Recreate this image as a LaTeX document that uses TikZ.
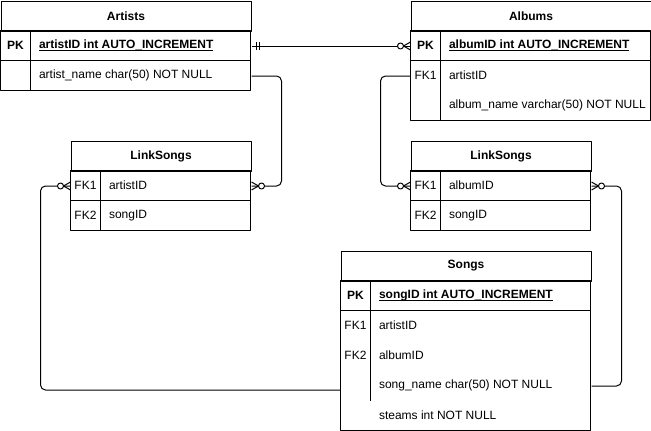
\documentclass[tikz,border=0pt]{standalone}
\usepackage{fontspec}
\setmainfont{Liberation Sans}
\newcommand{\erfont}{\fontsize{12}{14}\selectfont}
\newcommand{\pkfield}[1]{\textbf{\underline{\smash{#1}}\vphantom{#1}}}
\tikzset{
  tblhead/.style={draw, minimum height=30, inner sep=0, anchor=north west, font=\erfont\bfseries},
  tblrow/.style={minimum height=30, inner sep=0, anchor=north west},
  keytxt/.style={inner sep=0},
  fldtxt/.style={anchor=west, inner sep=0},
  zeromany/.pic={
    \draw (0,-4) -- (7,0) -- (0,4);
    \draw[fill=white] (10,0) circle (3);
  },
  onlyone/.pic={
    \draw (5,-4) -- (5,4) (8,-4) -- (8,4);
  },
}
\begin{document}
\begin{tikzpicture}[x=1pt, y=-1pt, line width=1pt, font=\erfont, line join=round]
    \useasboundingbox (0,0) rectangle (651,431);
    % Artists
    \begin{scope}[shift={(0.5,0.5)}]
        \node[tblhead, minimum width=250] (artists) at (0,0) {Artists};
        \foreach \n/\k/\t [count=\i] in {pk/\textbf{PK}/\pkfield{artistID int AUTO\_INCREMENT}, name//artist\_name char(50) NOT NULL} {
            \node[tblrow, minimum width=250] (artists-\n) at (0,30*\i) {};
            \node[keytxt] at (15,30*\i+15) {\k};
            \node[fldtxt] at (38,30*\i+15) {\t};
        }
        \draw (0,30) rectangle (250,90) (0,60) -- (250,60) (30,30) -- (30,90);
    \end{scope}
    % Albums
    \begin{scope}[shift={(410.5,0.5)}]
        \node[tblhead, minimum width=240] (albums) at (0,0) {Albums};
        \foreach \n/\k/\t [count=\i] in {pk/\textbf{PK}/\pkfield{albumID int AUTO\_INCREMENT}, artist/FK1/artistID, name//album\_name varchar(50) NOT NULL} {
            \node[tblrow, minimum width=240] (albums-\n) at (0,30*\i) {};
            \node[keytxt] at (15,30*\i+15) {\k};
            \node[fldtxt] at (38,30*\i+15) {\t};
        }
        \draw (0,30) rectangle (240,120) (0,60) -- (240,60) (30,30) -- (30,120);
    \end{scope}
    % LinkSongs (artists)
    \begin{scope}[shift={(70.5,140.5)}]
        \node[tblhead, minimum width=180] (linka) at (0,0) {LinkSongs};
        \foreach \n/\k/\t [count=\i] in {fk1/FK1/artistID, fk2/FK2/songID} {
            \node[tblrow, minimum width=180] (linka-\n) at (0,30*\i) {};
            \node[keytxt] at (15,30*\i+15) {\k};
            \node[fldtxt] at (38,30*\i+15) {\t};
        }
        \draw (0,30) rectangle (180,90) (0,60) -- (180,60) (30,30) -- (30,90);
    \end{scope}
    % LinkSongs (albums)
    \begin{scope}[shift={(410.5,140.5)}]
        \node[tblhead, minimum width=180] (linkb) at (0,0) {LinkSongs};
        \foreach \n/\k/\t [count=\i] in {fk1/FK1/albumID, fk2/FK2/songID} {
            \node[tblrow, minimum width=180] (linkb-\n) at (0,30*\i) {};
            \node[keytxt] at (15,30*\i+15) {\k};
            \node[fldtxt] at (38,30*\i+15) {\t};
        }
        \draw (0,30) rectangle (180,90) (0,60) -- (180,60) (30,30) -- (30,90);
    \end{scope}
    % Songs
    \begin{scope}[shift={(340.5,250.5)}]
        \node[tblhead, minimum width=250] (songs) at (0,0) {Songs};
        \foreach \n/\k/\t [count=\i] in {pk/\textbf{PK}/\pkfield{songID int AUTO\_INCREMENT}, artist/FK1/artistID, album/FK2/albumID, name//song\_name char(50) NOT NULL, streams//steams int NOT NULL} {
            \node[tblrow, minimum width=250] (songs-\n) at (0,30*\i) {};
            \node[keytxt] at (15,30*\i+15) {\k};
            \node[fldtxt] at (38,30*\i+15) {\t};
        }
        \draw (0,30) rectangle (250,180) (0,60) -- (250,60) (30,30) -- (30,150);
    \end{scope}
    % relations
    \draw (artists-pk.east) -- (albums-pk.west);
    \draw[rounded corners=5] (artists-name.east) -- ++(30,0) |- (linka-fk1.east);
    \draw[rounded corners=5] (linka-fk1.west) -- ++(-30,0) |- ([yshift=-4pt]songs-name.west);
    \draw[rounded corners=5] (albums-artist.west) -- ++(-30,0) |- (linkb-fk1.west);
    \draw[rounded corners=5] (linkb-fk1.east) -- ++(30,0) |- (songs-name.east);
    \pic at (artists-pk.east) {onlyone};
    \pic[rotate=180] at (albums-pk.west) {zeromany};
    \pic at (linka-fk1.east) {zeromany};
    \pic[rotate=180] at (linka-fk1.west) {zeromany};
    \pic[rotate=180] at (linkb-fk1.west) {zeromany};
    \pic at (linkb-fk1.east) {zeromany};
\end{tikzpicture}
\end{document}
